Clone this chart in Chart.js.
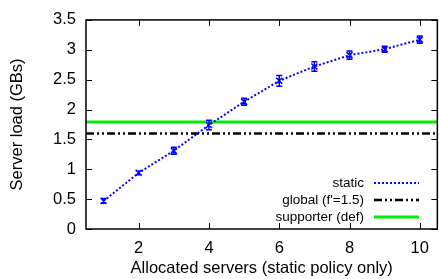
<!DOCTYPE html>
<html>
<head>
<meta charset="utf-8">
<script src="https://cdn.jsdelivr.net/npm/chart.js@4/dist/chart.umd.min.js"></script>
<style>
  html, body { margin: 0; padding: 0; background: #fff; }
  #wrap { width: 439px; height: 279px; }
</style>
</head>
<body>
<div id="wrap"><canvas id="chart" width="439" height="279"></canvas></div>
<script>
var servers = [1, 2, 3, 4, 5, 6, 7, 8, 9, 10];
var staticLoad = [0.47, 0.94, 1.31, 1.74, 2.13, 2.48, 2.72, 2.91, 3.01, 3.17];
var staticErr = [0.04, 0.03, 0.06, 0.08, 0.06, 0.09, 0.08, 0.07, 0.05, 0.06];
var globalLoad = 1.60;
var supporterLoad = 1.79;
var xTicks = [2, 4, 6, 8, 10];
var yTicks = [0, 0.5, 1, 1.5, 2, 2.5, 3, 3.5];

var font = "'Liberation Sans', Arial, sans-serif";

function hline(v) {
    return [{ x: 0.5, y: v }, { x: 10.5, y: v }];
}

// error bars with caps, drawn after the datasets
var errorBars = {
    id: 'errorBars',
    afterDatasetsDraw: function (chart) {
        var ctx = chart.ctx, xs = chart.scales.x, ys = chart.scales.y;
        ctx.save();
        ctx.strokeStyle = '#0000ff';
        ctx.lineWidth = 1.5;
        servers.forEach(function (s, i) {
            var px = xs.getPixelForValue(s);
            var lo = ys.getPixelForValue(staticLoad[i] - staticErr[i]);
            var hi = ys.getPixelForValue(staticLoad[i] + staticErr[i]);
            var py = ys.getPixelForValue(staticLoad[i]);
            ctx.beginPath();
            ctx.moveTo(px, lo); ctx.lineTo(px, hi);
            ctx.moveTo(px - 3, lo); ctx.lineTo(px + 3, lo);
            ctx.moveTo(px - 3, hi); ctx.lineTo(px + 3, hi);
            ctx.moveTo(px - 3, py - 3); ctx.lineTo(px + 3, py + 3);
            ctx.moveTo(px - 3, py + 3); ctx.lineTo(px + 3, py - 3);
            ctx.stroke();
        });
        ctx.restore();
    }
};

// gnuplot-like frame with inward ticks on all four sides
var frame = {
    id: 'frame',
    afterDraw: function (chart) {
        var ctx = chart.ctx, a = chart.chartArea, xs = chart.scales.x, ys = chart.scales.y;
        ctx.save();
        ctx.strokeStyle = '#000';
        ctx.lineWidth = 1.5;
        ctx.strokeRect(a.left, a.top, a.right - a.left, a.bottom - a.top);
        ctx.lineWidth = 1;
        ctx.beginPath();
        xTicks.forEach(function (t) {
            var px = Math.round(xs.getPixelForValue(t)) + 0.5;
            ctx.moveTo(px, a.bottom); ctx.lineTo(px, a.bottom - 6);
            ctx.moveTo(px, a.top); ctx.lineTo(px, a.top + 6);
        });
        yTicks.forEach(function (t) {
            var py = Math.round(ys.getPixelForValue(t)) + 0.5;
            ctx.moveTo(a.left, py); ctx.lineTo(a.left + 6, py);
            ctx.moveTo(a.right, py); ctx.lineTo(a.right - 6, py);
        });
        ctx.stroke();
        ctx.restore();
    }
};

// legend in the lower right: label on the left, sample on the right
var keyBox = {
    id: 'keyBox',
    afterDraw: function (chart) {
        var ctx = chart.ctx;
        var x0 = 364, y0 = 183, step = 17;
        ctx.save();
        ctx.font = '13.5px ' + font;
        ctx.textAlign = 'right';
        ctx.textBaseline = 'middle';
        chart.data.datasets.forEach(function (ds, i) {
            var y = y0 + i * step;
            ctx.fillStyle = '#000';
            ctx.fillText(ds.label, x0, y);
            ctx.strokeStyle = ds.borderColor;
            ctx.lineWidth = ds.borderWidth;
            ctx.setLineDash(ds.borderDash || []);
            ctx.beginPath();
            ctx.moveTo(374, y); ctx.lineTo(419, y);
            ctx.stroke();
        });
        ctx.restore();
    }
};

new Chart('chart', {
    type: 'line',
    data: {
        datasets: [
            {
                label: 'static',
                data: servers.map(function (s, i) { return { x: s, y: staticLoad[i] }; }),
                borderColor: '#0000ff',
                borderWidth: 2,
                borderDash: [2, 2],
                pointRadius: 0,
                fill: false
            },
            {
                label: "global (f'=1.5)",
                data: hline(globalLoad),
                borderColor: '#000000',
                borderWidth: 2.5,
                borderDash: [8, 3, 2, 3, 2, 3],
                pointRadius: 0,
                fill: false
            },
            {
                label: 'supporter (def)',
                data: hline(supporterLoad),
                borderColor: '#00ee00',
                borderWidth: 3,
                pointRadius: 0,
                fill: false
            }
        ]
    },
    options: {
        responsive: false,
        animation: false,
        events: [],
        layout: { padding: { top: 14, right: 1, left: 0, bottom: 0 } },
        plugins: {
            legend: { display: false },
            tooltip: { enabled: false }
        },
        scales: {
            x: {
                type: 'linear',
                min: 0.5,
                max: 10.5,
                afterFit: function (s) { s.height = 50; },
                afterBuildTicks: function (s) { s.ticks = xTicks.map(function (v) { return { value: v }; }); },
                grid: { display: false, drawTicks: false },
                border: { display: false },
                ticks: {
                    color: '#000', font: { family: font, size: 16.5 }, padding: 10,
                    callback: function (v) { return String(v); }
                },
                title: {
                    display: true,
                    text: 'Allocated servers (static policy only)',
                    color: '#000',
                    font: { family: font, size: 16.5 },
                    padding: { top: 0, bottom: 1 }
                }
            },
            y: {
                min: 0,
                max: 3.5,
                afterFit: function (s) { s.width = 86; },
                afterBuildTicks: function (s) { s.ticks = yTicks.map(function (v) { return { value: v }; }); },
                grid: { display: false, drawTicks: false },
                border: { display: false },
                ticks: {
                    color: '#000', font: { family: font, size: 16.5 }, padding: 10,
                    callback: function (v) { return String(v); }
                },
                title: {
                    display: true,
                    text: 'Server load (GBs)',
                    color: '#000',
                    font: { family: font, size: 16.5 },
                    padding: { top: 8, bottom: 0 }
                }
            }
        }
    },
    plugins: [errorBars, frame, keyBox]
});
</script>
</body>
</html>
